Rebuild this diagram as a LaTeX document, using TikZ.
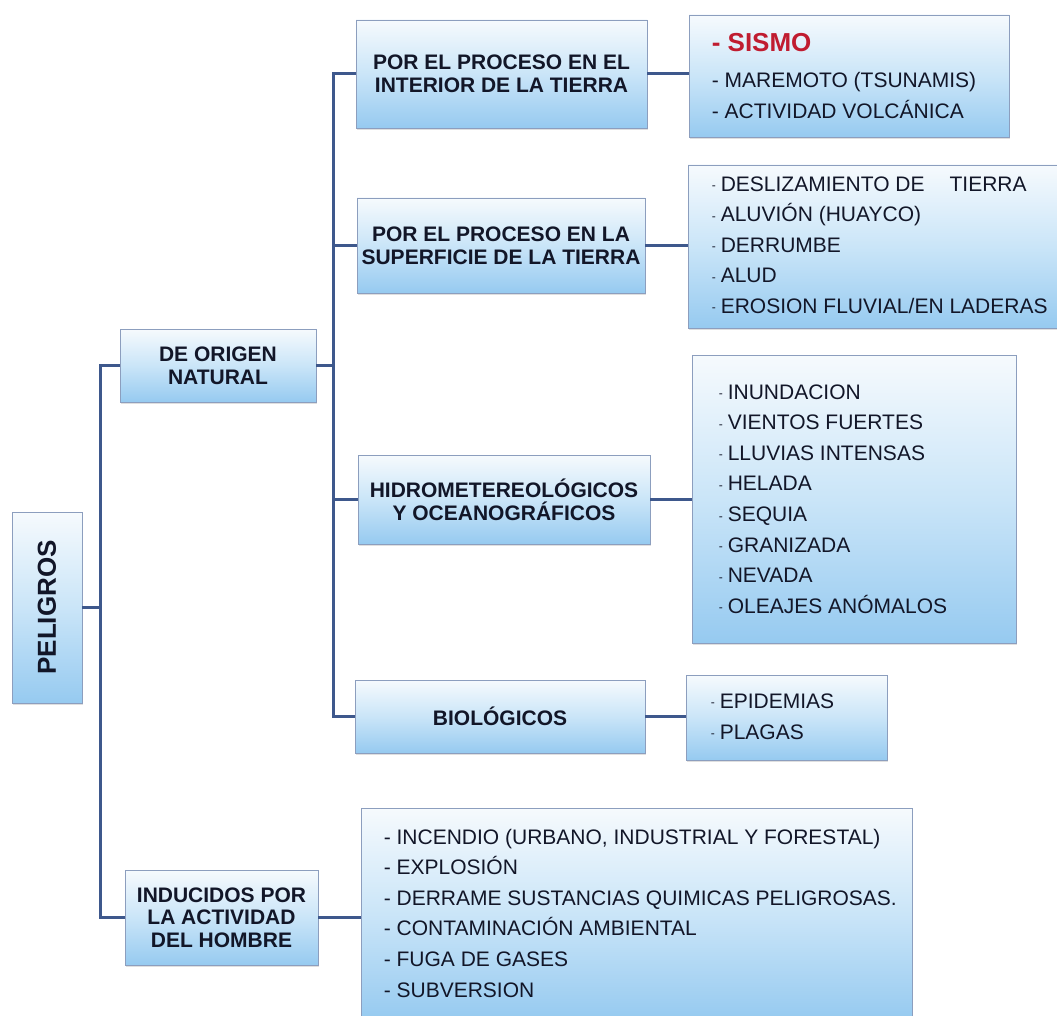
\documentclass[tikz,border=0pt]{standalone}
\usepackage{fontspec}
\setmainfont{Liberation Sans}
\usetikzlibrary{shadows}
\definecolor{ink}{RGB}{18,22,40}
\definecolor{boxtop}{RGB}{246,250,253}
\definecolor{boxmid}{RGB}{202,229,248}
\definecolor{boxbot}{RGB}{150,202,240}
\definecolor{boxline}{RGB}{140,158,190}
\definecolor{conncol}{RGB}{62,88,140}
\definecolor{sismored}{RGB}{192,28,48}
\newcommand{\sdsh}{\raisebox{1.5pt}{\fontsize{12}{12}\selectfont -}\hspace{5pt}}
\tikzset{
  box/.style={rectangle, draw=boxline, line width=0.8pt,
    top color=boxtop, bottom color=boxbot, middle color=boxmid,
    inner sep=0pt, text=ink,
    drop shadow={shadow xshift=1pt, shadow yshift=-2pt, opacity=0.25}},
  titlebox/.style={box, font=\fontsize{21}{23}\selectfont\bfseries, align=center},
  listtext/.style={anchor=west, inner sep=0pt, text=ink,
    font=\fontsize{21}{30.6}\selectfont, align=left},
  conn/.style={draw=conncol, line width=3pt},
}
\begin{document}
\begin{tikzpicture}[x=1pt,y=-1pt]
\fill[white] (0,0) rectangle (1057,1016);
\useasboundingbox (0,0) rectangle (1057,1016);

% title boxes
\node[titlebox, minimum width=70pt, minimum height=191pt] (pel) at (47,607.5)
  {\rotatebox{90}{\fontsize{26}{26}\selectfont PELIGROS}};
\node[titlebox, minimum width=196pt, minimum height=73pt] (origen) at (218,365.5)
  {DE ORIGEN\\NATURAL};
\node[titlebox, minimum width=193pt, minimum height=95pt,
  font=\fontsize{21}{22.5}\selectfont\bfseries] (induc) at (221.5,917.5)
  {INDUCIDOS POR\\LA ACTIVIDAD\\DEL HOMBRE};
\node[titlebox, minimum width=291pt, minimum height=108pt] (inter) at (501.5,74)
  {POR EL PROCESO EN EL\\INTERIOR DE LA TIERRA};
\node[titlebox, minimum width=288pt, minimum height=95pt] (super) at (501,245.5)
  {POR EL PROCESO EN LA\\SUPERFICIE DE LA TIERRA};
\node[titlebox, minimum width=292pt, minimum height=89pt] (hidro) at (504,499.5)
  {HIDROMETEREOLÓGICOS\\Y OCEANOGRÁFICOS};
\node[titlebox, minimum width=290pt, minimum height=73pt] (bio) at (500,716.5)
  {BIOLÓGICOS};

% list boxes
\node[box, minimum width=320pt, minimum height=122pt] (l1) at (849,76) {};
\node[listtext] (l1t) at ([xshift=23pt]l1.west)
  {{\fontsize{26}{26}\selectfont\bfseries\color{sismored}- SISMO}\\[5.5pt]
   - MAREMOTO (TSUNAMIS)\\
   - ACTIVIDAD VOLCÁNICA};

\node[box, minimum width=373pt, minimum height=163pt] (l2) at (874.5,246.5) {};
\node[listtext] (l2t) at ([xshift=24pt,yshift=1.5pt]l2.west)
  {\sdsh DESLIZAMIENTO DE\hspace{25pt}TIERRA\\
   \sdsh ALUVIÓN (HUAYCO)\\
   \sdsh DERRUMBE\\
   \sdsh ALUD\\
   \sdsh EROSION FLUVIAL/EN LADERAS};

\node[box, minimum width=324pt, minimum height=288pt] (l3) at (854,499) {};
\node[listtext] (l3t) at ([xshift=27pt]l3.west)
  {\sdsh INUNDACION\\
   \sdsh VIENTOS FUERTES\\
   \sdsh LLUVIAS INTENSAS\\
   \sdsh HELADA\\
   \sdsh SEQUIA\\
   \sdsh GRANIZADA\\
   \sdsh NEVADA\\
   \sdsh OLEAJES ANÓMALOS};

\node[box, minimum width=201pt, minimum height=85pt] (l4) at (786.5,717.5) {};
\node[listtext] (l4t) at ([xshift=25pt,yshift=1pt]l4.west)
  {\sdsh EPIDEMIAS\\
   \sdsh PLAGAS};

\node[box, minimum width=551pt, minimum height=212pt] (l5) at (636.5,914) {};
\node[listtext] (l5t) at ([xshift=23pt,yshift=1pt]l5.west)
  {- INCENDIO (URBANO, INDUSTRIAL Y FORESTAL)\\
   - EXPLOSIÓN\\
   - DERRAME SUSTANCIAS QUIMICAS PELIGROSAS.\\
   - CONTAMINACIÓN AMBIENTAL\\
   - FUGA DE GASES\\
   - SUBVERSION};

% connectors
\coordinate (t1) at (100,363);
\coordinate (t2) at (333,72);
\draw[conn] (pel.east) -- (pel.east -| t1);
\draw[conn] (origen.west) -- (origen.west -| t1) |- (induc.west);
\draw[conn] (inter.west) -- (inter.west -| t2) |- (bio.west);
\draw[conn] (origen.east) -- (origen.east -| t2);
\draw[conn] (super.west -| t2) -- (super.west);
\draw[conn] (hidro.west -| t2) -- (hidro.west);
\draw[conn] (inter.east) -- (inter.east -| l1.west);
\draw[conn] (super.east) -- (super.east -| l2.west);
\draw[conn] (hidro.east) -- (hidro.east -| l3.west);
\draw[conn] (bio.east) -- (bio.east -| l4.west);
\draw[conn] (induc.east) -- (induc.east -| l5.west);
\end{tikzpicture}
\end{document}
